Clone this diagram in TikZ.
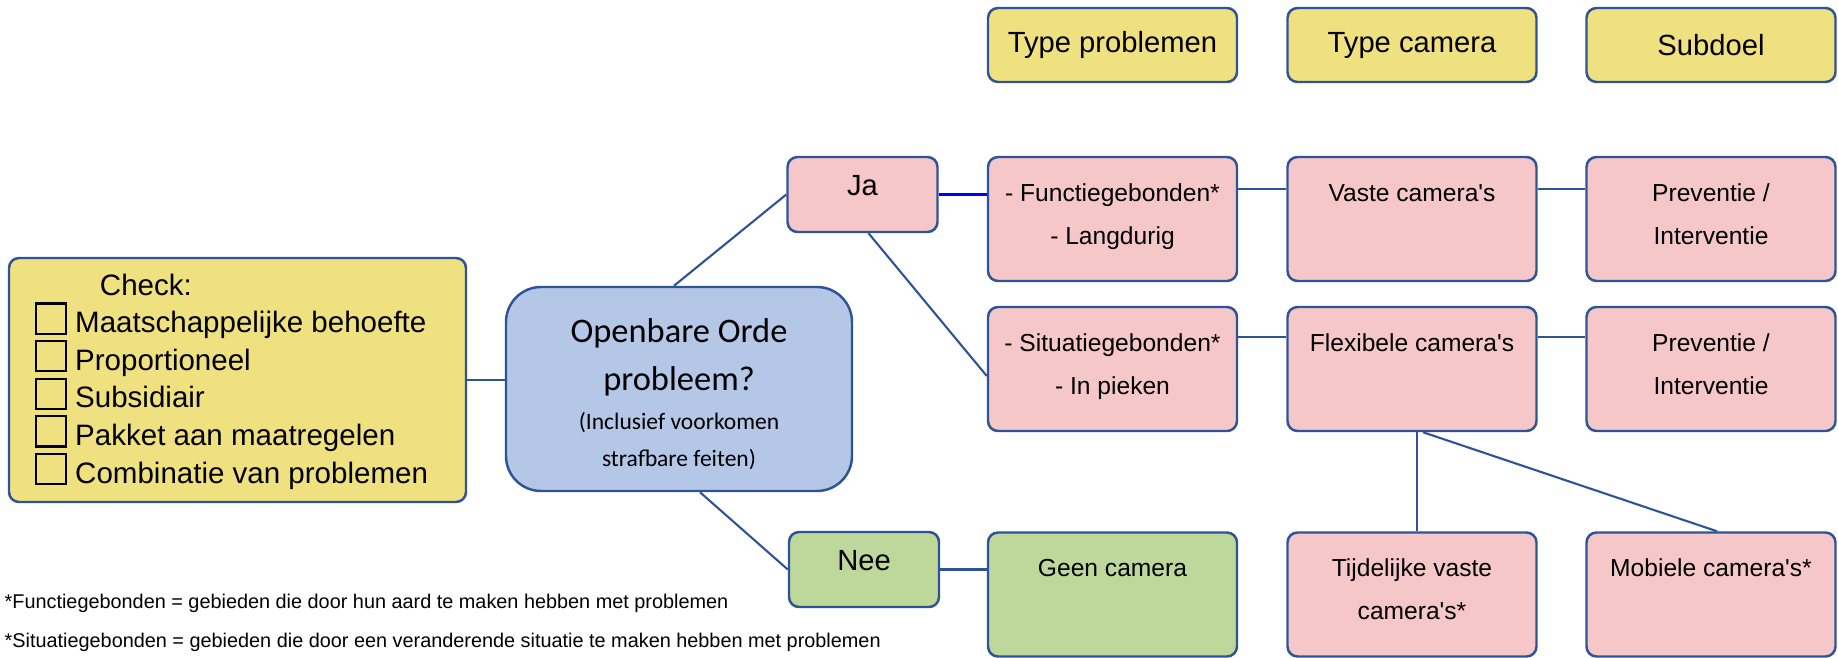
\documentclass[tikz,border=0pt]{standalone}
\usepackage{fontspec}
\setmainfont{Liberation Sans}
\newfontfamily\calibri{Carlito}
\definecolor{bordercol}{RGB}{47,84,150}
\definecolor{yelfill}{RGB}{239,224,128}
\definecolor{pinkfill}{RGB}{245,199,200}
\definecolor{bluefill}{RGB}{180,199,231}
\definecolor{greenfill}{RGB}{189,216,154}
\newcommand{\chkbox}{{\setlength{\fboxsep}{0pt}\setlength{\fboxrule}{0.6pt}\fbox{\rule{0pt}{0.28cm}\rule{0.28cm}{0pt}}}\hspace{0.08cm}}
\newcommand{\apos}{\textquotesingle}
\tikzset{
  box/.style={draw=bordercol, line width=0.7pt, rounded corners=0.1cm, inner sep=0pt, align=flush center},
  headbox/.style={box, fill=yelfill, minimum width=2.49cm, minimum height=0.74cm, font=\fontsize{8.3}{10}\selectfont},
  cellbox/.style={box, minimum width=2.49cm, text width=2.4cm, text height=0.44cm, text depth=0.80cm, font=\fontsize{7}{12.3}\selectfont},
  answerbox/.style={box, minimum width=1.5cm, text height=0.38cm, text depth=0.37cm, font=\fontsize{8.3}{10}\selectfont},
  link/.style={draw=bordercol, line width=0.6pt},
  footnote/.style={anchor=base west, inner sep=0pt, font=\fontsize{5.65}{7}\selectfont}
}
\begin{document}
\begin{tikzpicture}
\useasboundingbox (0, 0) rectangle (18.38, -6.58);
\node[box, fill=yelfill, minimum width=4.57cm, text width=4.05cm, text height=0.37cm, text depth=2.07cm, align=flush left, font=\fontsize{8.4}{10.7}\selectfont] (chk) at (2.375, -3.80) {\hspace*{0.65cm}Check:\\\chkbox Maatschappelijke behoefte\\\chkbox Proportioneel\\\chkbox Subsidiair\\\chkbox Pakket aan maatregelen\\\chkbox Combinatie van problemen\par};
\node[box, fill=bluefill, rounded corners=0.35cm, minimum width=3.46cm, text height=0.55cm, text depth=1.49cm, text width=3.4cm, font=\calibri] (ob) at (6.79, -3.89) {\fontsize{9.8}{13.7}\selectfont Openbare Orde\\probleem?\par\vspace{0.5pt}\fontsize{6.7}{10.6}\selectfont (Inclusief voorkomen\\strafbare feiten)\par};
\node[answerbox, fill=pinkfill] (ja) at (8.625, -1.945) {Ja};
\node[answerbox, fill=greenfill] (nee) at (8.64, -5.695) {Nee};
\node[headbox] (tp) at (11.125, -0.45) {Type problemen};
\node[headbox] (tc) at (14.12, -0.45) {Type camera};
\node[headbox] (sd) at (17.11, -0.45) {Subdoel};
\node[cellbox, fill=pinkfill] (func) at (11.125, -2.19) {- Functiegebonden*\\- Langdurig\par};
\node[cellbox, fill=pinkfill] (vaste) at (14.12, -2.19) {Vaste camera\apos s\par};
\node[cellbox, fill=pinkfill] (prev1) at (17.11, -2.19) {Preventie /\\Interventie\par};
\node[cellbox, fill=pinkfill] (situ) at (11.125, -3.69) {- Situatiegebonden*\\- In pieken\par};
\node[cellbox, fill=pinkfill] (flex) at (14.12, -3.69) {Flexibele camera\apos s\par};
\node[cellbox, fill=pinkfill] (prev2) at (17.11, -3.69) {Preventie /\\Interventie\par};
\node[cellbox, fill=greenfill] (geen) at (11.125, -5.945) {Geen camera\par};
\node[cellbox, fill=pinkfill] (tijd) at (14.12, -5.945) {Tijdelijke vaste\\camera\apos s*\par};
\node[cellbox, fill=pinkfill] (mob) at (17.11, -5.945) {Mobiele camera\apos s*\par};
\node[footnote] (fn1) at (0.04, -6.08) {*Functiegebonden = gebieden die door hun aard te maken hebben met problemen};
\node[footnote] (fn2) at (0.04, -6.47) {*Situatiegebonden = gebieden die door een veranderende situatie te maken hebben met problemen};
\draw[link] (chk.east) -- (chk.east -| ob.west);
\draw[link] ([xshift=-0.05cm]ob.north) -- (ja.west);
\draw[link] ([xshift=0.06cm]ja.south) -- ([yshift=-0.07cm]situ.west);
\draw[link] ([xshift=0.21cm]ob.south) -- (nee.west);
\draw[draw=blue, line width=0.7pt] (ja.east) -- (ja.east -| func.west);
\draw[link] ([yshift=-0.33cm]func.north east) -- ([yshift=-0.33cm]vaste.north west);
\draw[link] ([yshift=-0.33cm]vaste.north east) -- ([yshift=-0.33cm]prev1.north west);
\draw[link] ([yshift=-0.31cm]situ.north east) -- ([yshift=-0.31cm]flex.north west);
\draw[link] ([yshift=-0.31cm]flex.north east) -- ([yshift=-0.31cm]prev2.north west);
\draw[link] (nee.east) -- (nee.east -| geen.west);
\draw[link] ([xshift=0.05cm]flex.south) -- ([xshift=0.05cm]tijd.north);
\draw[link] ([xshift=0.11cm]flex.south) -- ([xshift=0.06cm]mob.north);
\end{tikzpicture}
\end{document}
